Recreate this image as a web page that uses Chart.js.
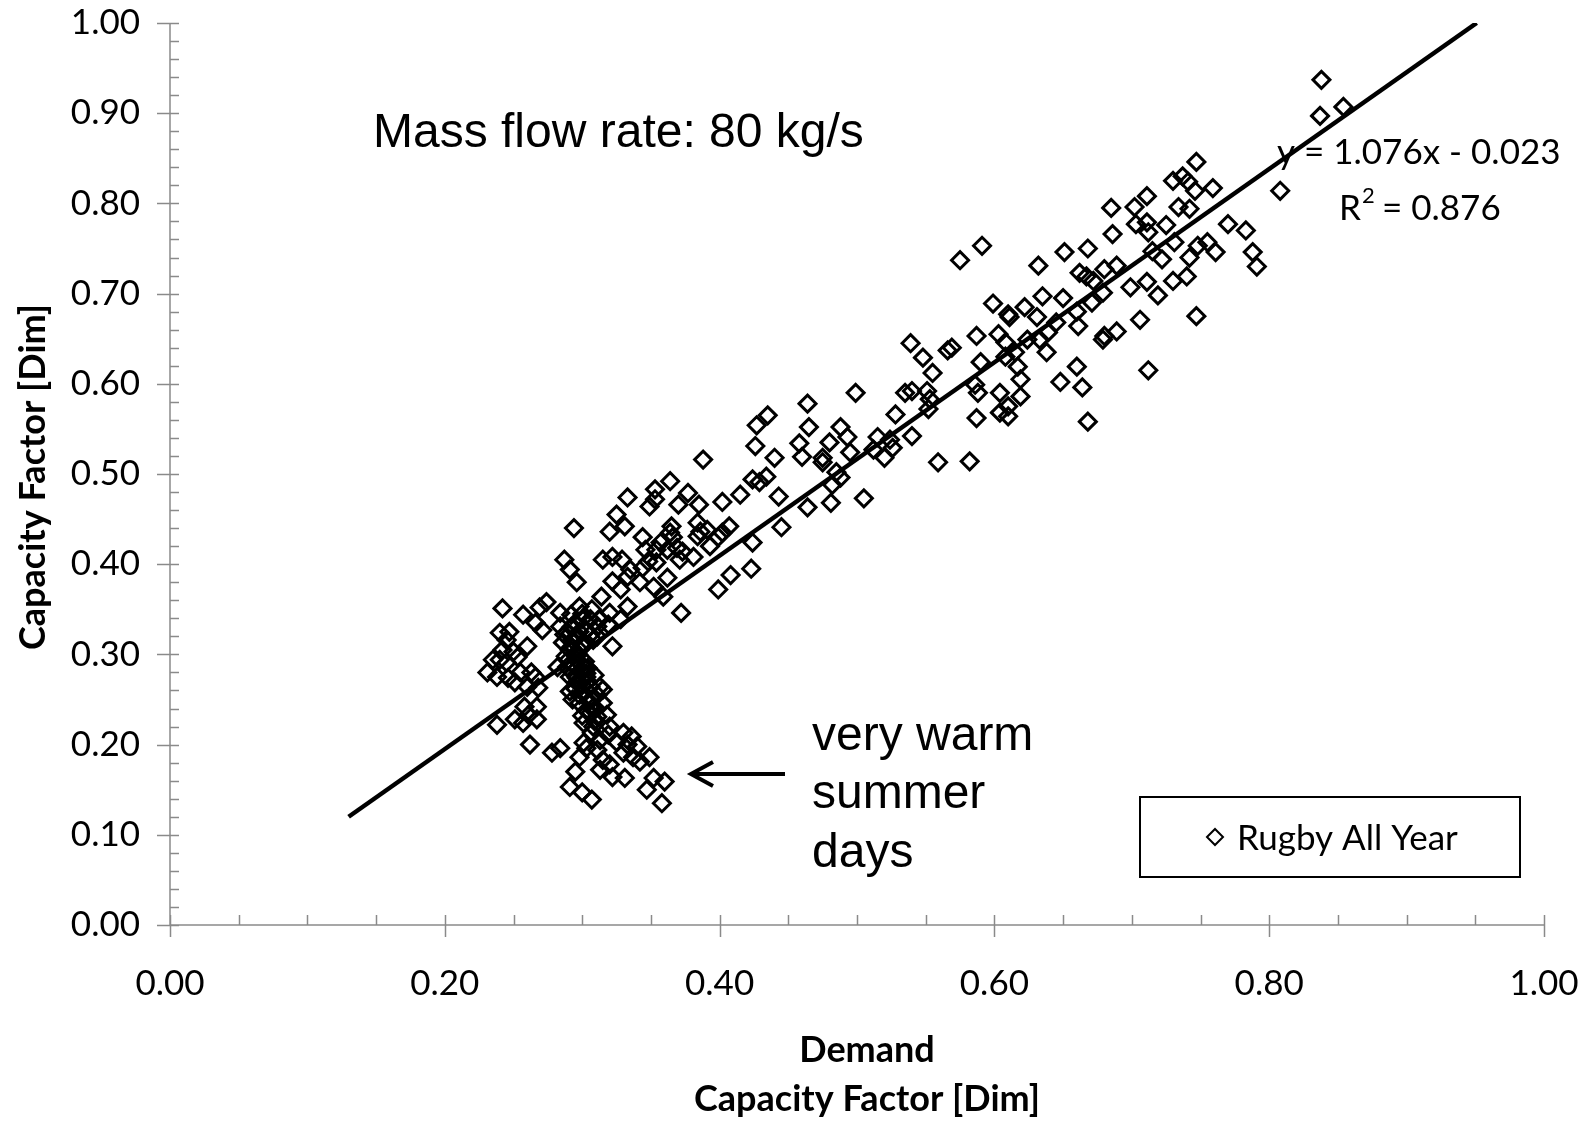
<!DOCTYPE html>
<html lang="en">
<head>
<meta charset="UTF-8">
<title>Capacity Factor vs Demand</title>
<style>
    body { margin: 0; background: #fff; }
    #wrap { width: 1588px; height: 1121px; }
</style>
</head>
<body>
<div id="wrap"><canvas id="cf-chart" width="1588" height="1121"></canvas></div>

<script src="https://cdn.jsdelivr.net/npm/chart.js"></script>
<script>
    // Demand capacity factor (x) and plant capacity factor (y)
    const demandX = [
        0.838, 0.837, 0.854, 0.808, 0.747, 0.730, 0.737, 0.741, 0.746, 0.759,
        0.711, 0.734, 0.742, 0.725, 0.711, 0.712, 0.731, 0.722, 0.715, 0.742,
        0.748, 0.755, 0.761, 0.770, 0.783, 0.788, 0.791, 0.711, 0.730, 0.740,
        0.719, 0.706, 0.747, 0.712, 0.685, 0.702, 0.686, 0.703, 0.575, 0.591,
        0.632, 0.651, 0.668, 0.662, 0.667, 0.672, 0.680, 0.689, 0.699, 0.679,
        0.671, 0.660, 0.650, 0.635, 0.622, 0.610, 0.611, 0.599, 0.631, 0.645,
        0.661, 0.639, 0.633, 0.624, 0.608, 0.603, 0.587, 0.569, 0.566, 0.539,
        0.548, 0.555, 0.535, 0.540, 0.551, 0.553, 0.552, 0.528, 0.524, 0.526,
        0.520, 0.540, 0.559, 0.582, 0.587, 0.590, 0.586, 0.588, 0.604, 0.604,
        0.610, 0.610, 0.619, 0.619, 0.617, 0.608, 0.615, 0.638, 0.648, 0.660,
        0.664, 0.668, 0.679, 0.689, 0.680, 0.499, 0.464, 0.435, 0.427, 0.465,
        0.488, 0.493, 0.480, 0.458, 0.495, 0.460, 0.475, 0.475, 0.515, 0.512,
        0.426, 0.440, 0.485, 0.488, 0.482, 0.481, 0.464, 0.505, 0.388, 0.424,
        0.429, 0.434, 0.443, 0.415, 0.402, 0.445, 0.424, 0.408, 0.399, 0.423,
        0.372, 0.407, 0.402, 0.399, 0.393, 0.386, 0.384, 0.391, 0.377, 0.370,
        0.385, 0.364, 0.353, 0.353, 0.349, 0.333, 0.325, 0.331, 0.320, 0.294,
        0.344, 0.365, 0.364, 0.366, 0.357, 0.354, 0.362, 0.369, 0.373, 0.381,
        0.384, 0.371, 0.346, 0.348, 0.354, 0.344, 0.362, 0.352, 0.359, 0.315,
        0.322, 0.329, 0.335, 0.333, 0.322, 0.328, 0.314, 0.342, 0.287, 0.291,
        0.296, 0.298, 0.307, 0.320, 0.333, 0.313, 0.295, 0.284, 0.328, 0.319,
        0.242, 0.257, 0.266, 0.271, 0.269, 0.274, 0.240, 0.247, 0.245, 0.260,
        0.242, 0.250, 0.235, 0.231, 0.240, 0.245, 0.253, 0.255, 0.238, 0.246,
        0.263, 0.266, 0.251, 0.260, 0.268, 0.238, 0.251, 0.257, 0.261, 0.267,
        0.258, 0.267, 0.262, 0.278, 0.282, 0.284, 0.284, 0.289, 0.293, 0.286,
        0.291, 0.298, 0.296, 0.289, 0.301, 0.308, 0.303, 0.311, 0.304, 0.291,
        0.296, 0.303, 0.291, 0.293, 0.301, 0.306, 0.313, 0.298, 0.307, 0.308,
        0.315, 0.306, 0.311, 0.318, 0.301, 0.308, 0.320, 0.307, 0.313, 0.319,
        0.301, 0.303, 0.311, 0.298, 0.325, 0.330, 0.336, 0.333, 0.340, 0.330,
        0.337, 0.349, 0.342, 0.315, 0.320, 0.313, 0.322, 0.331, 0.352, 0.360,
        0.347, 0.295, 0.291, 0.300, 0.307, 0.358, 0.322, 0.311, 0.295, 0.302,
        0.297, 0.290, 0.306, 0.300, 0.292, 0.309, 0.315, 0.311, 0.292, 0.298,
        0.295, 0.300, 0.292, 0.297, 0.288, 0.302, 0.294, 0.299, 0.293, 0.303,
        0.296, 0.300, 0.295, 0.304, 0.298, 0.305, 0.303, 0.310, 0.300, 0.309,
        0.287, 0.306, 0.300
    ];
    const capacityY = [
        0.937, 0.897, 0.907, 0.814, 0.846, 0.825, 0.830, 0.824, 0.814, 0.817,
        0.808, 0.796, 0.794, 0.776, 0.779, 0.768, 0.757, 0.738, 0.747, 0.740,
        0.753, 0.757, 0.746, 0.777, 0.770, 0.746, 0.730, 0.713, 0.714, 0.719,
        0.698, 0.671, 0.675, 0.615, 0.795, 0.796, 0.766, 0.777, 0.737, 0.753,
        0.731, 0.746, 0.750, 0.723, 0.719, 0.714, 0.727, 0.731, 0.707, 0.701,
        0.690, 0.680, 0.695, 0.697, 0.685, 0.677, 0.674, 0.689, 0.674, 0.668,
        0.664, 0.657, 0.649, 0.649, 0.646, 0.655, 0.653, 0.640, 0.637, 0.645,
        0.629, 0.612, 0.590, 0.592, 0.592, 0.583, 0.572, 0.566, 0.538, 0.529,
        0.518, 0.542, 0.513, 0.514, 0.562, 0.624, 0.599, 0.590, 0.590, 0.568,
        0.575, 0.564, 0.586, 0.605, 0.619, 0.630, 0.635, 0.635, 0.602, 0.619,
        0.596, 0.558, 0.649, 0.658, 0.653, 0.590, 0.578, 0.565, 0.554, 0.552,
        0.552, 0.541, 0.535, 0.534, 0.524, 0.519, 0.518, 0.513, 0.541, 0.527,
        0.531, 0.518, 0.502, 0.496, 0.488, 0.468, 0.463, 0.473, 0.516, 0.494,
        0.491, 0.497, 0.475, 0.477, 0.469, 0.441, 0.424, 0.388, 0.372, 0.395,
        0.346, 0.442, 0.435, 0.430, 0.420, 0.436, 0.446, 0.438, 0.479, 0.466,
        0.466, 0.492, 0.483, 0.472, 0.464, 0.474, 0.455, 0.442, 0.436, 0.440,
        0.430, 0.442, 0.435, 0.430, 0.424, 0.416, 0.416, 0.418, 0.414, 0.408,
        0.431, 0.405, 0.416, 0.403, 0.402, 0.396, 0.385, 0.375, 0.364, 0.405,
        0.408, 0.405, 0.394, 0.386, 0.381, 0.372, 0.364, 0.380, 0.405, 0.394,
        0.380, 0.353, 0.350, 0.346, 0.353, 0.339, 0.335, 0.346, 0.339, 0.333,
        0.351, 0.344, 0.335, 0.327, 0.352, 0.358, 0.324, 0.325, 0.316, 0.309,
        0.305, 0.303, 0.294, 0.280, 0.294, 0.291, 0.297, 0.280, 0.275, 0.274,
        0.280, 0.275, 0.269, 0.264, 0.263, 0.222, 0.228, 0.224, 0.233, 0.242,
        0.242, 0.228, 0.200, 0.191, 0.286, 0.196, 0.331, 0.324, 0.316, 0.313,
        0.305, 0.305, 0.294, 0.286, 0.286, 0.316, 0.327, 0.331, 0.285, 0.275,
        0.269, 0.275, 0.259, 0.250, 0.257, 0.264, 0.264, 0.246, 0.250, 0.241,
        0.246, 0.235, 0.231, 0.233, 0.224, 0.220, 0.220, 0.213, 0.205, 0.211,
        0.202, 0.196, 0.194, 0.186, 0.203, 0.213, 0.209, 0.200, 0.198, 0.191,
        0.186, 0.186, 0.181, 0.183, 0.178, 0.172, 0.164, 0.163, 0.163, 0.159,
        0.150, 0.170, 0.153, 0.147, 0.139, 0.135, 0.309, 0.320, 0.300, 0.311,
        0.320, 0.294, 0.339, 0.339, 0.344, 0.277, 0.261, 0.255, 0.330, 0.325,
        0.318, 0.312, 0.308, 0.300, 0.298, 0.292, 0.288, 0.282, 0.280, 0.279,
        0.274, 0.266, 0.262, 0.270, 0.255, 0.248, 0.238, 0.240, 0.232, 0.226,
        0.322, 0.322, 0.345
    ];

    // linear trendline y = 1.076x - 0.023, end points as drawn
    const trendX = [0.13, 0.951];
    const trendY = [0.12, 1.0];

    const seriesName = 'Rugby All Year';
    const equationText = 'y = 1.076x - 0.023';
    const r2Value = '0.876';

    const axisGrey = '#8a8a8a';
    const fontSans = 'Lato, "Open Sans", sans-serif';

    // axis lines with Excel-style major/minor tick marks
    const axisFrame = {
        id: 'axisFrame',
        beforeDatasetsDraw(chart) {
            const { ctx, chartArea: a, scales: { x, y } } = chart;
            ctx.save();
            ctx.strokeStyle = axisGrey;
            ctx.lineWidth = 1.5;
            ctx.beginPath();
            ctx.moveTo(a.left, a.top);
            ctx.lineTo(a.left, a.bottom);
            ctx.lineTo(a.right, a.bottom);
            for (let i = 0; i <= 50; i++) {
                const py = Math.round(y.getPixelForValue(i * 0.02)) + 0.5;
                ctx.moveTo(a.left - (i % 5 === 0 ? 13 : 0), py);
                ctx.lineTo(a.left + 9, py);
            }
            for (let i = 0; i <= 20; i++) {
                const px = Math.round(x.getPixelForValue(i * 0.05)) + 0.5;
                ctx.moveTo(px, a.bottom - 10);
                ctx.lineTo(px, a.bottom + (i % 4 === 0 ? 12 : 0));
            }
            ctx.stroke();
            ctx.restore();
        }
    };

    // titles, notes, trend equation and the boxed legend
    const notes = {
        id: 'notes',
        afterDraw(chart) {
            const { ctx } = chart;
            ctx.save();
            ctx.fillStyle = '#000';
            ctx.strokeStyle = '#000';
            ctx.textBaseline = 'alphabetic';

            ctx.font = 'bold 36px ' + fontSans;
            ctx.textAlign = 'center';
            ctx.fillText('Demand', 867, 1062);
            ctx.fillText('Capacity Factor [Dim]', 867, 1111);
            ctx.save();
            ctx.translate(45, 477);
            ctx.rotate(-Math.PI / 2);
            ctx.fillText('Capacity Factor [Dim]', 0, 0);
            ctx.restore();

            ctx.textAlign = 'left';
            ctx.font = '48px "Liberation Sans", Arial, sans-serif';
            ctx.fillText('Mass flow rate: 80 kg/s', 373, 147);
            ctx.fillText('very warm', 812, 750);
            ctx.fillText('summer', 812, 808);
            ctx.fillText('days', 812, 867);

            // arrow pointing at the hot-day points
            ctx.lineWidth = 4;
            ctx.beginPath();
            ctx.moveTo(785, 774);
            ctx.lineTo(693, 774);
            ctx.moveTo(713, 762);
            ctx.lineTo(691, 774);
            ctx.lineTo(713, 786);
            ctx.stroke();

            ctx.font = '35px ' + fontSans;
            ctx.fillText(equationText, 1277, 164);
            ctx.fillText('R', 1339, 220);
            const rw = ctx.measureText('R').width;
            ctx.font = '22px ' + fontSans;
            ctx.fillText('2', 1339 + rw + 1, 203);
            ctx.font = '35px ' + fontSans;
            ctx.fillText('= ' + r2Value, 1382, 220);

            // legend box with an open diamond marker
            ctx.lineWidth = 2;
            ctx.strokeRect(1140, 797, 380, 80);
            ctx.beginPath();
            ctx.moveTo(1207, 837);
            ctx.lineTo(1215, 829);
            ctx.lineTo(1223, 837);
            ctx.lineTo(1215, 845);
            ctx.closePath();
            ctx.stroke();
            ctx.fillText(chart.data.datasets[1].label, 1237, 850);
            ctx.restore();
        }
    };

    new Chart(document.getElementById('cf-chart'), {
        type: 'scatter',
        data: {
            datasets: [
                {
                    type: 'line',
                    label: 'Linear trend',
                    data: trendX.map((v, i) => ({ x: v, y: trendY[i] })),
                    borderColor: '#000',
                    borderWidth: 4.5,
                    pointRadius: 0,
                    fill: false,
                    order: 0
                },
                {
                    label: seriesName,
                    data: demandX.map((v, i) => ({ x: v, y: capacityY[i] })),
                    pointStyle: 'rectRot',
                    pointRadius: 8.5,
                    borderWidth: 3,
                    borderColor: '#000',
                    backgroundColor: 'rgba(0,0,0,0)',
                    order: 1
                }
            ]
        },
        options: {
            responsive: false,
            animation: false,
            devicePixelRatio: 1,
            events: [],
            layout: { padding: { left: 0, top: 23, right: 44, bottom: 0 } },
            plugins: {
                legend: { display: false },
                tooltip: { enabled: false }
            },
            scales: {
                x: {
                    type: 'linear',
                    min: 0,
                    max: 1,
                    afterFit: (s) => { s.height = 196; s.paddingLeft = 0; s.paddingRight = 0; },
                    grid: { display: false, drawTicks: false },
                    border: { display: false },
                    ticks: {
                        stepSize: 0.2,
                        maxRotation: 0,
                        autoSkip: false,
                        padding: 38,
                        color: '#000',
                        font: { family: fontSans, size: 35 },
                        callback: (v) => v.toFixed(2)
                    }
                },
                y: {
                    type: 'linear',
                    min: 0,
                    max: 1,
                    afterFit: (s) => { s.width = 170; s.paddingTop = 0; s.paddingBottom = 0; },
                    grid: { display: false, drawTicks: false },
                    border: { display: false },
                    ticks: {
                        stepSize: 0.1,
                        autoSkip: false,
                        padding: 30,
                        color: '#000',
                        font: { family: fontSans, size: 35 },
                        callback: (v) => v.toFixed(2)
                    }
                }
            }
        },
        plugins: [axisFrame, notes]
    });
</script>
</body>
</html>
